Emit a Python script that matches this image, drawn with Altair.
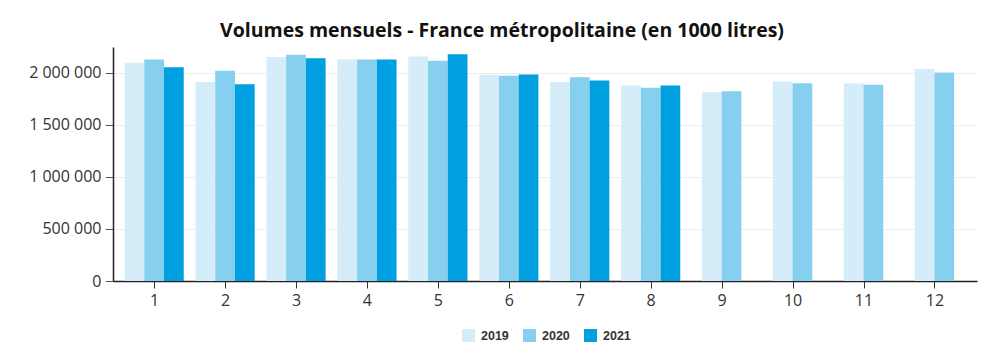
import altair as alt
import pandas as pd

months = list(range(1, 13))
years = ["2019", "2020", "2021"]
v2019 = [2093000, 1910000, 2150000, 2125000, 2154000, 1978000, 1910000, 1875000, 1811000, 1914000, 1894000, 2035000]
v2020 = [2125000, 2016000, 2170000, 2125000, 2112000, 1968000, 1955000, 1853000, 1821000, 1898000, 1882000, 2000000]
v2021 = [2051000, 1888000, 2138000, 2125000, 2176000, 1981000, 1923000, 1875000]
colors = ["#d5ecf9", "#87cfee", "#009fe0"]
y_ticks = [0, 500000, 1000000, 1500000, 2000000]
title_text = "Volumes mensuels - France métropolitaine (en 1000 litres)"

rows = []
for y, vals in zip(years, [v2019, v2020, v2021]):
    for m, v in zip(months, vals):
        rows.append({"month": m, "year": y, "value": v})
df = pd.DataFrame(rows)

W = 0.278  # bar width in month units

chart = (
    alt.Chart(df)
    .transform_joinaggregate(n="count()", groupby=["month"])
    .transform_window(idx="row_number()", groupby=["month"], sort=[alt.SortField("year")])
    .transform_calculate(
        x0=f"datum.month + (datum.idx - 1 - datum.n / 2) * {W}",
        x1=f"datum.month + (datum.idx - datum.n / 2) * {W}",
    )
    .mark_rect()
    .encode(
        x=alt.X(
            "x0:Q",
            scale=alt.Scale(domain=[0.42, 12.6], nice=False, zero=False),
            axis=alt.Axis(
                values=months, format="d", title=None, grid=False,
                domainColor="#222", domainWidth=1.5, tickColor="#333", tickSize=7,
                labelFont="Open Sans", labelFontSize=16, labelColor="#333",
                labelPadding=4,
            ),
        ),
        x2="x1:Q",
        y=alt.Y(
            "value:Q",
            scale=alt.Scale(domain=[0, 2245000], nice=False),
            axis=alt.Axis(
                values=y_ticks, title=None, grid=True, gridColor="#eeeeee",
                domainColor="#222", domainWidth=1.5, tickColor="#555", tickSize=8,
                labelFont="Open Sans", labelFontSize=16, labelColor="#333",
                labelPadding=4,
                labelExpr="replace(replace(format(datum.value, ','), ',', ' '), ',', ' ')",
            ),
        ),
        y2=alt.datum(0),
        color=alt.Color(
            "year:N",
            scale=alt.Scale(domain=years, range=colors),
            legend=alt.Legend(
                title=None, orient="none", direction="horizontal",
                legendX=349, legendY=282,
                symbolType="square", symbolSize=169, symbolStrokeWidth=0,
                labelFont="Liberation Sans", labelFontSize=12.5, labelFontWeight="bold",
                labelColor="#333", labelOffset=6, columnPadding=14,
            ),
        ),
    )
    .properties(
        width=864,
        height=234,
        title=alt.TitleParams(
            title_text, font="Open Sans", fontSize=19.5, fontWeight="bold",
            color="#111", anchor="middle", dx=-43, offset=6,
        ),
        autosize=alt.AutoSizeParams(type="none"),
        padding={"left": 105, "top": 39, "right": 2, "bottom": 70},
        background="white",
    )
    .configure_view(stroke=None)
)

chart.save("out.html", embed_options={"renderer": "svg", "actions": False})
